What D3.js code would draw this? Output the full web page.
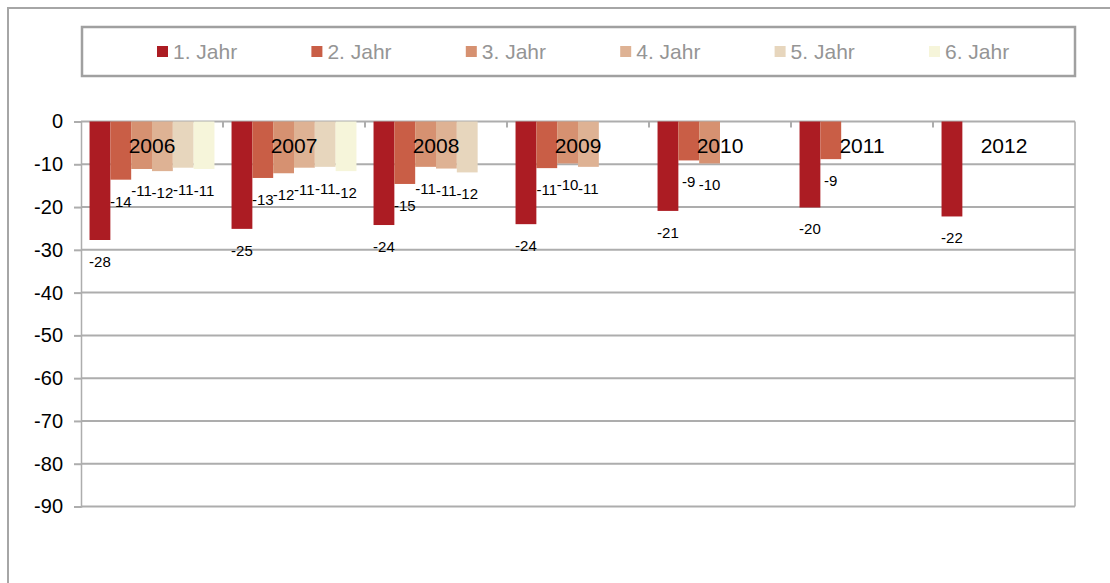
<!DOCTYPE html>
<html>
<head>
<meta charset="utf-8">
<script src="https://cdn.jsdelivr.net/npm/d3@7"></script>
<style>
  body { margin: 0; background: #fff; }
  svg { display: block; font-family: "Liberation Sans", Arial, sans-serif; }
</style>
</head>
<body>
<script>
// Categories and series
const years = ["2006", "2007", "2008", "2009", "2010", "2011", "2012"];
const seriesNames = ["1. Jahr", "2. Jahr", "3. Jahr", "4. Jahr", "5. Jahr", "6. Jahr"];
const seriesColors = ["#AC1C23", "#C95E46", "#D69171", "#DEB294", "#E7D6BD", "#F6F5DA"];

// values per year (null = no bar)
const jahr1 = [-27.7, -25.1, -24.2, -24.0, -20.9, -20.1, -22.2];
const jahr2 = [-13.6, -13.2, -14.6, -10.9, -9.1, -8.8, null];
const jahr3 = [-11.1, -12.1, -10.6, -9.8, -9.8, null, null];
const jahr4 = [-11.6, -10.8, -11.0, -10.6, null, null, null];
const jahr5 = [-10.8, -10.6, -11.9, null, null, null, null];
const jahr6 = [-11.1, -11.6, null, null, null, null, null];
const labels1 = ["-28", "-25", "-24", "-24", "-21", "-20", "-22"];
const labels2 = ["-14", "-13", "-15", "-11", "-9", "-9", null];
const labels3 = ["-11", "-12", "-11", "-10", "-10", null, null];
const labels4 = ["-12", "-11", "-11", "-11", null, null, null];
const labels5 = ["-11", "-11", "-12", null, null, null, null];
const labels6 = ["-11", "-12", null, null, null, null, null];
const yTicks = [0, -10, -20, -30, -40, -50, -60, -70, -80, -90];

const allValues = [jahr1, jahr2, jahr3, jahr4, jahr5, jahr6];
const allLabels = [labels1, labels2, labels3, labels4, labels5, labels6];

const width = 1110;
const height = 583;
const plotLeft = 81;
const plotRight = 1075;
const plotTop = 121.5;
const plotBottom = 506.5;
const gridColor = "#ADADAD";

const svg = d3.select("body").append("svg")
    .attr("width", width)
    .attr("height", height);

// outer chart frame (runs past the window on right/bottom)
svg.append("rect")
    .attr("x", 8).attr("y", 8)
    .attr("width", width + 20).attr("height", height + 20)
    .attr("fill", "none")
    .attr("stroke", "#A6A6A6")
    .attr("stroke-width", 2);

// scales
const x = d3.scaleBand()
    .domain(years)
    .range([plotLeft, plotRight])
    .padding(0);

const xs = d3.scaleBand()
    .domain(seriesNames)
    .range([0, x.bandwidth()])
    .paddingInner(0)
    .paddingOuter(0.41);

const y = d3.scaleLinear()
    .domain([0, -90])
    .range([plotTop, plotBottom]);

// gridlines
svg.append("g")
    .selectAll("line")
    .data(yTicks)
    .join("line")
    .attr("x1", plotLeft)
    .attr("x2", plotRight)
    .attr("y1", d => y(d))
    .attr("y2", d => y(d))
    .attr("stroke", gridColor)
    .attr("stroke-width", 2);

// right border of plot
svg.append("line")
    .attr("x1", plotRight).attr("x2", plotRight)
    .attr("y1", plotTop).attr("y2", plotBottom)
    .attr("stroke", gridColor)
    .attr("stroke-width", 1.5);

// y axis (plain hyphen minus like the original)
svg.append("g")
    .attr("transform", `translate(${plotLeft},0)`)
    .call(d3.axisLeft(y).tickValues(yTicks).tickSize(7).tickPadding(11).tickFormat(d => String(d)))
    .call(g => g.select(".domain").attr("stroke", gridColor).attr("stroke-width", 1.5))
    .call(g => g.selectAll(".tick line").attr("stroke", gridColor).attr("stroke-width", 2))
    .call(g => g.selectAll(".tick text")
        .attr("font-size", "20px")
        .attr("font-family", "Liberation Sans, Arial, sans-serif")
        .attr("fill", "#000"));

// bars
const barData = [];
allValues.forEach((vals, si) => {
    vals.forEach((v, yi) => {
        if (v !== null) {
            barData.push({ year: years[yi], series: seriesNames[si], si: si, value: v, label: allLabels[si][yi] });
        }
    });
});

svg.append("g")
    .selectAll("rect")
    .data(barData)
    .join("rect")
    .attr("x", d => x(d.year) + xs(d.series))
    .attr("y", y(0))
    .attr("width", xs.bandwidth())
    .attr("height", d => y(d.value) - y(0))
    .attr("fill", d => seriesColors[d.si]);

// category ticks along the zero line
svg.append("g")
    .selectAll("line")
    .data(years.slice(1))
    .join("line")
    .attr("x1", d => x(d))
    .attr("x2", d => x(d))
    .attr("y1", y(0))
    .attr("y2", y(0) + 6)
    .attr("stroke", gridColor)
    .attr("stroke-width", 2);

// category labels
svg.append("g")
    .selectAll("text")
    .data(years)
    .join("text")
    .attr("x", d => x(d) + x.bandwidth() / 2)
    .attr("y", 153)
    .attr("text-anchor", "middle")
    .attr("font-size", "21px")
    .attr("fill", "#000")
    .text(d => d);

// data labels
svg.append("g")
    .selectAll("text")
    .data(barData)
    .join("text")
    .attr("x", d => x(d.year) + xs(d.series) + xs.bandwidth() / 2)
    .attr("y", d => y(d.value) + 27)
    .attr("text-anchor", "middle")
    .attr("font-size", "15px")
    .attr("fill", "#000")
    .text(d => d.label);

// legend
const legend = svg.append("g");
legend.append("rect")
    .attr("x", 82).attr("y", 27)
    .attr("width", 993).attr("height", 49)
    .attr("fill", "#fff")
    .attr("stroke", "#A0A0A0")
    .attr("stroke-width", 2.5);

const legendX = d3.scalePoint()
    .domain(seriesNames)
    .range([157, 929]);

const item = legend.selectAll("g.item")
    .data(seriesNames)
    .join("g")
    .attr("class", "item")
    .attr("transform", d => `translate(${legendX(d)},46)`);

item.append("rect")
    .attr("width", 11)
    .attr("height", 11)
    .attr("fill", (d, i) => seriesColors[i]);

item.append("text")
    .attr("x", 16)
    .attr("y", 13)
    .attr("font-size", "21px")
    .attr("fill", "#959595")
    .text(d => d);
</script>
</body>
</html>
